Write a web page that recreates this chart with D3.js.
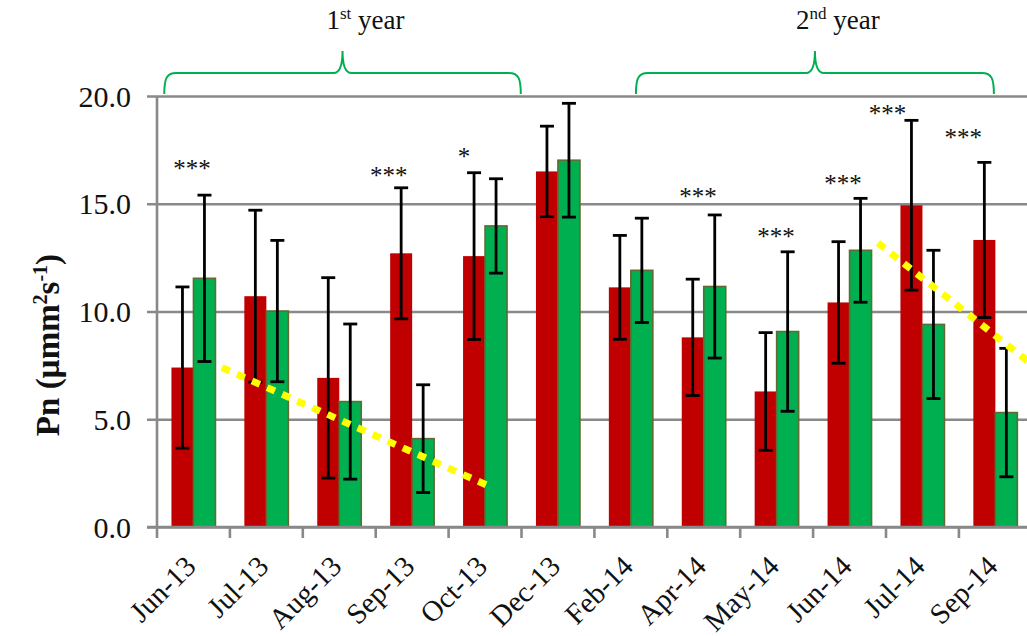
<!DOCTYPE html>
<html>
<head>
<meta charset="utf-8">
<script src="https://cdn.jsdelivr.net/npm/d3@7"></script>
<style>
  body { margin: 0; background: #fff; }
  svg { display: block; }
  text { font-family: "Liberation Serif", "Times New Roman", serif; fill: #111; }
</style>
</head>
<body>
<svg id="chart" width="1027" height="636"></svg>
<script>
// Sampling months
const months = ["Jun-13", "Jul-13", "Aug-13", "Sep-13", "Oct-13", "Dec-13",
                "Feb-14", "Apr-14", "May-14", "Jun-14", "Jul-14", "Sep-14"];

// Net photosynthesis (Pn) means and error bar half-widths, two treatments
const redValues   = [7.40, 10.71, 6.92, 12.70, 12.57, 16.50, 11.12, 8.80, 6.29, 10.42, 14.93, 13.32];
const redErrors   = [3.74, 3.99, 4.65, 3.04, 3.87, 2.10, 2.41, 2.70, 2.73, 2.82, 3.94, 3.60];
const greenValues = [11.54, 10.02, 5.82, 4.10, 13.97, 17.02, 11.91, 11.16, 9.07, 12.84, 9.40, 5.31];
const greenErrors = [3.86, 3.28, 3.60, 2.50, 2.19, 2.64, 2.42, 3.32, 3.70, 2.41, 3.44, 2.98];

// Significance marks: text, level (Pn units) and place inside the month band (0..1)
const sigLabels  = ["***", "", "", "***", "*", "", "", "***", "***", "***", "***", "***"];
const sigLevels  = [16.8, null, null, 16.49, 17.37, null, null, 15.53, 13.66, 16.14, 19.39, 18.27];
const sigOffsets = [0.48, null, null, 0.18, 0.21, null, null, 0.42, 0.49, 0.41, 0.02, 0.06];

// Y axis ticks
const yTicks = [0, 5, 10, 15, 20];

// Declining trends, as [month index, Pn] end points
const trendStarts = [[0.89, 7.40], [9.89, 13.18]];
const trendEnds   = [[4.60, 1.83], [12.10, 7.28]];

// Year groupings spanned by braces (month index units)
const periodNumbers = ["1", "2"];
const periodSuffix  = ["st", "nd"];
const periodStart   = [0.10, 6.57];
const periodEnd     = [4.99, 11.48];

(function draw() {
  const svg = d3.select("#chart");
  const W = 1027;
  const plotLeft = 157, plotTop = 96, plotBottom = 527, step = 72.9;

  const x0 = d3.scaleBand().domain(months).range([plotLeft, plotLeft + step * months.length]).padding(0);
  const x1 = d3.scaleBand().domain(["red", "green"]).range([0, x0.bandwidth()])
    .paddingInner(0).paddingOuter(0.657);
  const xi = d3.scaleLinear().domain([0, months.length]).range([plotLeft, plotLeft + step * months.length]);
  const y = d3.scaleLinear().domain([0, 20]).range([plotBottom, plotTop]);

  const gridColor = "#898989";

  // Horizontal gridlines with outward ticks
  const yAxis = d3.axisLeft(y).tickValues(yTicks).tickFormat(d3.format(".1f"))
    .tickSize(-(W - plotLeft)).tickPadding(26);
  const gy = svg.append("g").attr("transform", `translate(${plotLeft},0)`).call(yAxis);
  gy.select(".domain").remove();
  gy.selectAll(".tick line").attr("x1", -10).attr("stroke", gridColor).attr("stroke-width", 2.6);
  gy.selectAll(".tick text").attr("font-size", 30).attr("fill", "#111")
    .style("font-family", '"Liberation Serif", serif').attr("dy", "0.34em");

  // Bars
  const data = months.map((m, i) => ({
    m, red: redValues[i], redErr: redErrors[i], green: greenValues[i], greenErr: greenErrors[i]
  }));
  const series = [
    { key: "red", fill: "#C00000", stroke: "none", val: d => d.red, err: d => d.redErr },
    { key: "green", fill: "#00B050", stroke: "#5E6B32", val: d => d.green, err: d => d.greenErr }
  ];

  series.forEach(s => {
    svg.append("g").selectAll("rect").data(data).join("rect")
      .attr("x", d => x0(d.m) + x1(s.key))
      .attr("y", d => y(s.val(d)))
      .attr("width", x1.bandwidth())
      .attr("height", d => y(0) - y(s.val(d)))
      .attr("fill", s.fill)
      .attr("stroke", s.stroke)
      .attr("stroke-width", s.stroke === "none" ? 0 : 1.6);
  });

  // X axis line with ticks at month boundaries
  svg.append("line").attr("x1", plotLeft - 10).attr("x2", W).attr("y1", y(0)).attr("y2", y(0))
    .attr("stroke", gridColor).attr("stroke-width", 2.6);
  svg.append("line").attr("x1", plotLeft).attr("x2", plotLeft).attr("y1", plotTop).attr("y2", plotBottom)
    .attr("stroke", gridColor).attr("stroke-width", 2.6);
  svg.append("g").selectAll("line").data(d3.range(months.length + 1)).join("line")
    .attr("x1", i => xi(i)).attr("x2", i => xi(i))
    .attr("y1", y(0)).attr("y2", y(0) + 11)
    .attr("stroke", gridColor).attr("stroke-width", 2.6);

  // Error bars
  const cap = 7;
  series.forEach(s => {
    const g = svg.append("g").attr("stroke", "#000").attr("stroke-width", 2.8);
    data.forEach(d => {
      const cx = x0(d.m) + x1(s.key) + x1.bandwidth() / 2;
      const hi = y(s.val(d) + s.err(d)), lo = y(s.val(d) - s.err(d));
      g.append("line").attr("x1", cx).attr("x2", cx).attr("y1", hi).attr("y2", lo);
      g.append("line").attr("x1", cx - cap).attr("x2", cx + cap).attr("y1", hi).attr("y2", hi);
      g.append("line").attr("x1", cx - cap).attr("x2", cx + cap).attr("y1", lo).attr("y2", lo);
    });
  });

  // Significance marks
  svg.append("g").selectAll("text")
    .data(months.map((m, i) => ({ m, t: sigLabels[i], v: sigLevels[i], o: sigOffsets[i] })).filter(d => d.t))
    .join("text")
    .attr("x", d => x0(d.m) + x0.bandwidth() * d.o)
    .attr("y", d => y(d.v))
    .attr("dy", "0.5em")
    .attr("text-anchor", "middle")
    .attr("font-size", 25)
    .text(d => d.t);

  // Month labels, slanted
  svg.append("g").selectAll("text").data(months).join("text")
    .attr("transform", m => `translate(${x0(m) + x0.bandwidth() / 2 + 4},${y(0) + 41}) rotate(-45)`)
    .attr("text-anchor", "end")
    .attr("font-size", 29)
    .text(m => m);

  // Trend lines
  const line = d3.line().x(p => xi(p[0])).y(p => y(p[1]));
  svg.append("g").selectAll("path").data(trendStarts.map((s, i) => [s, trendEnds[i]])).join("path")
    .attr("d", line)
    .attr("fill", "none")
    .attr("stroke", "#FFFF00")
    .attr("stroke-width", 7)
    .attr("stroke-dasharray", "8.5 8");

  // Year braces and their captions
  const braceBase = plotTop - 2, braceBar = plotTop - 23, bracePeak = plotTop - 45;
  periodNumbers.forEach((n, i) => {
    const a = xi(periodStart[i]), b = xi(periodEnd[i]), c = (a + b) / 2;
    const p = d3.path();
    p.moveTo(a, braceBase);
    p.bezierCurveTo(a, braceBar + 6, a + 2, braceBar, a + 12, braceBar);
    p.lineTo(c - 9, braceBar);
    p.quadraticCurveTo(c, braceBar, c, bracePeak);
    p.quadraticCurveTo(c, braceBar, c + 9, braceBar);
    p.lineTo(b - 12, braceBar);
    p.bezierCurveTo(b - 2, braceBar, b, braceBar + 6, b, braceBase);
    svg.append("path").attr("d", p.toString()).attr("fill", "none")
      .attr("stroke", "#00B050").attr("stroke-width", 2);

    const t = svg.append("text").attr("x", c + 23).attr("y", 29)
      .attr("text-anchor", "middle").attr("font-size", 27);
    t.append("tspan").text(n);
    t.append("tspan").attr("font-size", 17).attr("dy", -10).text(periodSuffix[i]);
    t.append("tspan").attr("dy", 10).text(" year");
  });

  // Y axis title
  const yt = svg.append("text")
    .attr("transform", `translate(59,345) rotate(-90)`)
    .attr("text-anchor", "middle")
    .attr("font-size", 33)
    .attr("font-weight", "bold");
  yt.append("tspan").text("Pn (\u00B5mm");
  yt.append("tspan").attr("font-size", 20).attr("dy", -12).text("2");
  yt.append("tspan").attr("dy", 12).text("s");
  yt.append("tspan").attr("font-size", 20).attr("dy", -12).text("-1");
  yt.append("tspan").attr("dy", 12).text(")");
})();
</script>
</body>
</html>
